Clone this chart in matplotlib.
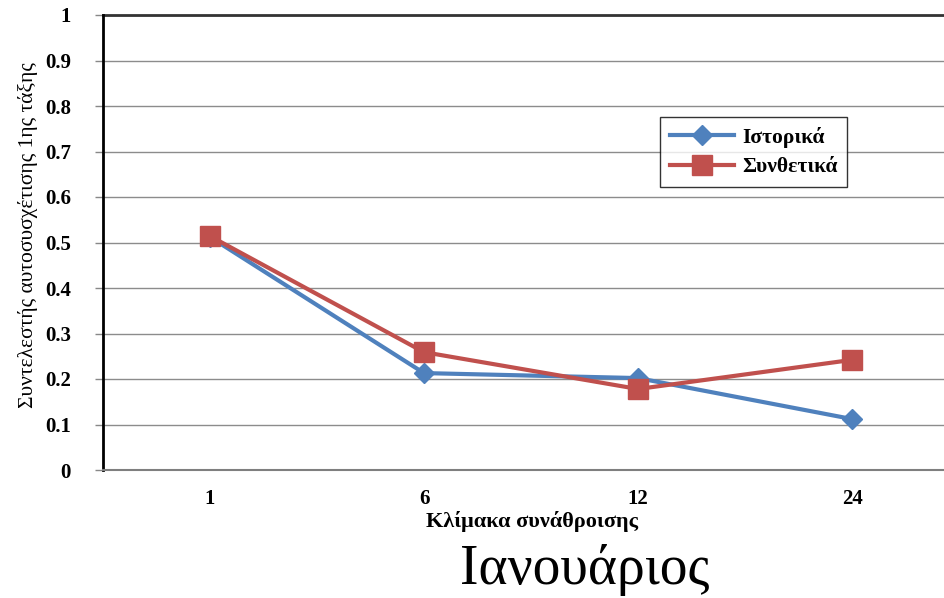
import matplotlib
matplotlib.use("Agg")
import matplotlib.pyplot as plt

# Aggregation scales (categories) and lag-1 autocorrelation coefficients
scales = ["1", "6", "12", "24"]
historical = [0.512, 0.213, 0.202, 0.112]
synthetic = [0.514, 0.259, 0.178, 0.242]
yticks = [0, 0.1, 0.2, 0.3, 0.4, 0.5, 0.6, 0.7, 0.8, 0.9, 1]
ytick_labels = ["0", "0.1", "0.2", "0.3", "0.4", "0.5", "0.6", "0.7", "0.8", "0.9", "1"]

plt.rcParams["font.family"] = ["Liberation Serif", "DejaVu Serif"]

W, H = 944, 598
fig = plt.figure(figsize=(W / 100, H / 100), dpi=100)
left, right, top, bottom = 103, 959, 15, 470
ax = fig.add_axes([left / W, 1 - bottom / H, (right - left) / W, (bottom - top) / H])

x = list(range(len(scales)))
ax.plot(x, historical, color="#4F81BD", lw=3, marker="D", markersize=10,
        label="Ιστορικά", zorder=3)
ax.plot(x, synthetic, color="#C0504D", lw=3, marker="s", markersize=14,
        label="Συνθετικά", zorder=4)

ax.set_xlim(-0.5, len(scales) - 0.5)
ax.set_ylim(0, 1)
ax.set_yticks(yticks)
ax.set_yticklabels(ytick_labels, fontsize=15, fontweight="bold")
ax.set_xticks(x)
ax.set_xticklabels(scales, fontsize=15, fontweight="bold")
ax.tick_params(axis="x", length=0, pad=14)
ax.tick_params(axis="y", length=6, color="#888888", width=1, pad=17)

ax.grid(axis="y", color="#8c8c8c", lw=1)
ax.set_axisbelow(True)
for s in ["top", "right"]:
    ax.spines[s].set_visible(False)
ax.spines["left"].set_color("black")
ax.spines["left"].set_linewidth(2)
ax.spines["bottom"].set_color("#7f7f7f")
ax.spines["bottom"].set_linewidth(1.5)
ax.axhline(1, color="#333333", lw=2, zorder=2, clip_on=False)

ax.set_ylabel("Συντελεστής αυτοσυσχέτισης 1ης τάξης", fontsize=15.5)
ax.yaxis.set_label_coords(-(left - 28) / (right - left), (bottom - 235) / (bottom - top))
ax.set_xlabel("Κλίμακα συνάθροισης", fontsize=16, fontweight="bold")
ax.xaxis.set_label_coords((532 - left) / (right - left), -(522 - bottom) / (bottom - top))
ax.xaxis.label.set_va("center")
ax.yaxis.label.set_va("center")

leg = ax.legend(loc="upper left", bbox_to_anchor=(660 / W, 1 - 117 / H),
                bbox_transform=fig.transFigure, frameon=True, fancybox=False,
                edgecolor="black", prop={"size": 15.5, "weight": "bold"},
                handlelength=3.0, borderpad=0.45, labelspacing=0.45,
                handletextpad=0.35, borderaxespad=0)
leg.get_frame().set_linewidth(1)

fig.text(585 / W, 1 - 570 / H, "Ιανουάριος", fontsize=40, ha="center", va="center")

fig.savefig("out.png", dpi=100)
